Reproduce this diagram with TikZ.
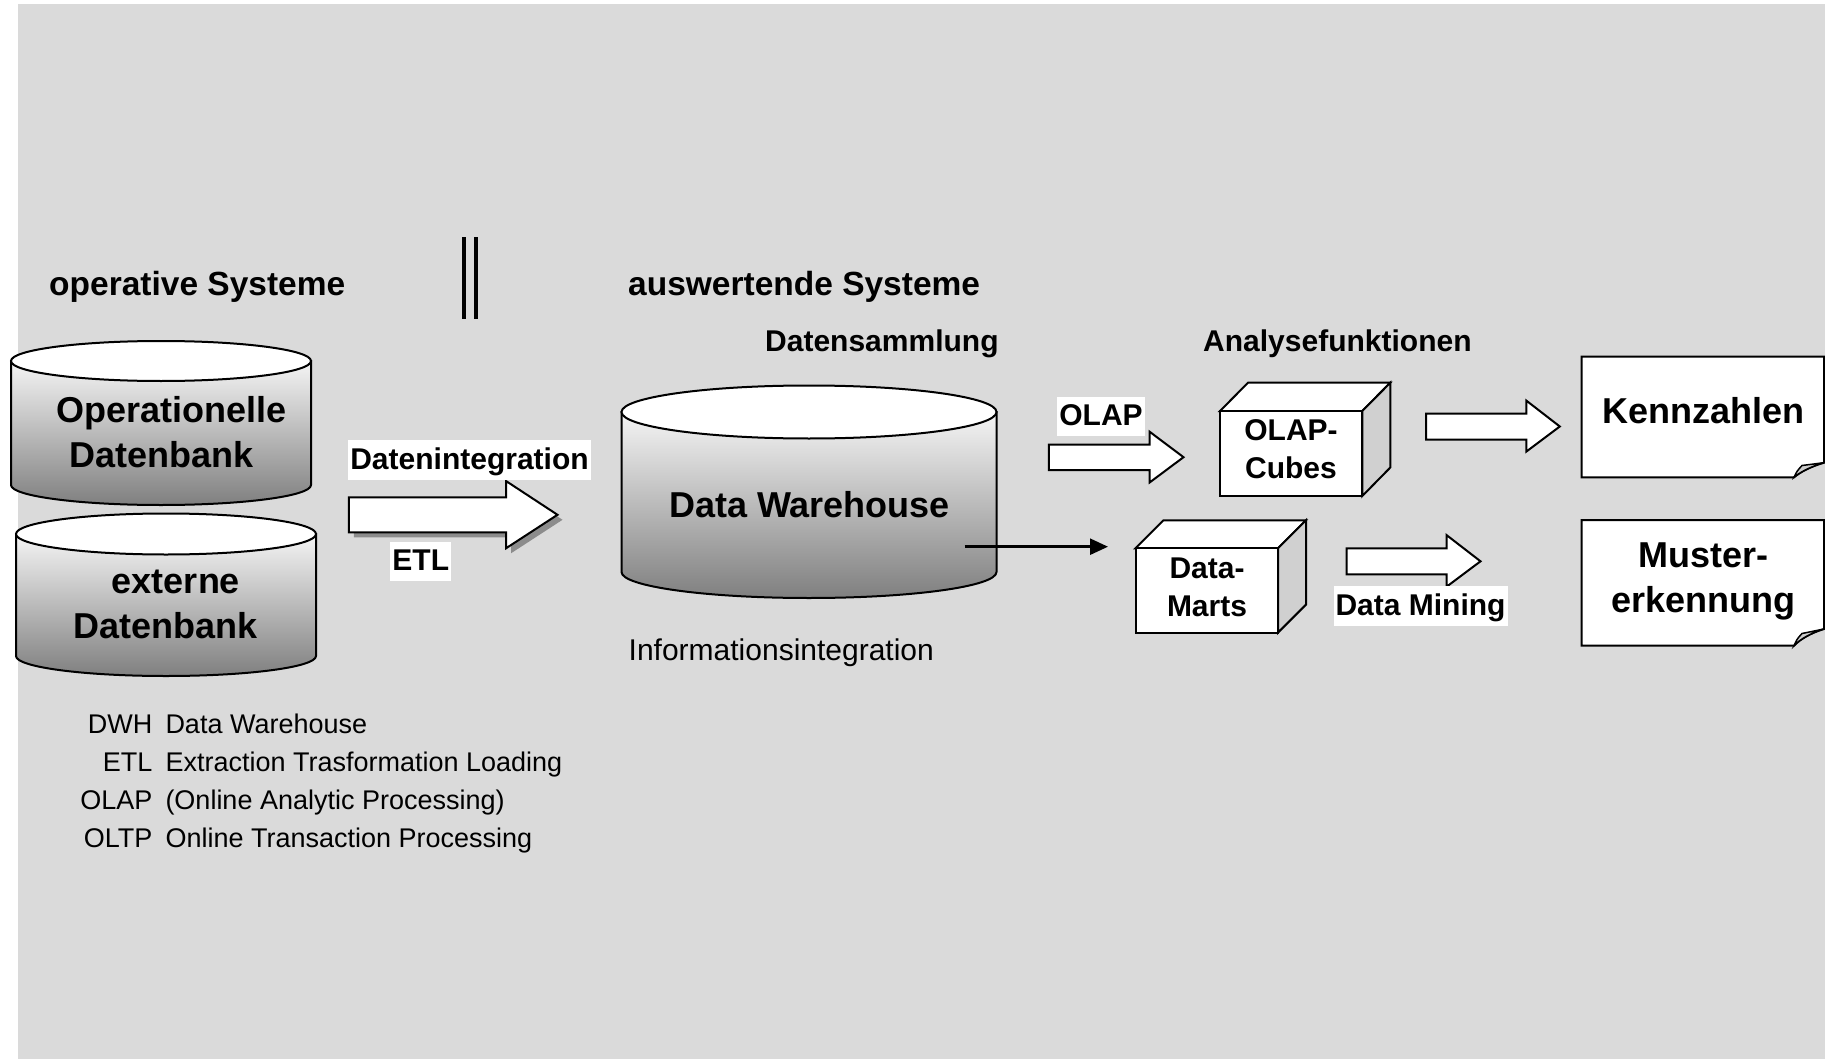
\documentclass[tikz,border=0pt]{standalone}
\usepackage{fontspec}
\setmainfont{Liberation Sans}
\usetikzlibrary{arrows.meta}
\definecolor{bg}{RGB}{218,218,218}
\definecolor{sideface}{RGB}{208,208,208}
\begin{document}
\begin{tikzpicture}[x=1pt,y=-1pt,
  txt/.style={inner sep=0pt, anchor=base},
  hd/.style={txt, anchor=base west, font=\bfseries\fontsize{33.5}{40}\selectfont},
  sub/.style={txt, anchor=base west, font=\bfseries\fontsize{30}{36}\selectfont},
  big/.style={txt, align=center, font=\bfseries\fontsize{36}{45}\selectfont},
  mid/.style={txt, align=center, font=\bfseries\fontsize{30}{38}\selectfont},
  lbl/.style={anchor=base, fill=white, inner xsep=2pt, inner ysep=5pt, text height=24pt, text depth=5.5pt, font=\bfseries\fontsize{30}{36}\selectfont},
  legab/.style={inner sep=0pt, anchor=base east, align=right, font=\fontsize{27}{38}\selectfont},
  legtx/.style={inner sep=0pt, anchor=base west, align=left, font=\fontsize{27}{38}\selectfont},
  plain/.style={inner sep=0pt, anchor=base west, font=\fontsize{30}{36}\selectfont},
  outl/.style={draw=black, line width=2pt, line join=miter},
  blk/.style={outl, fill=white},
  cylbody/.style={outl, top color=white!96!black, bottom color=black!50},
  cyltop/.style={outl, fill=white},
  cubeside/.style={outl, fill=sideface},
  docflap/.style={draw=black, line width=1.5pt, fill=gray!40},
  sep/.style={line width=4pt},
  thin/.style={line width=2.5pt, -{Triangle[length=18pt,width=16pt]}}
]
\useasboundingbox (0,0) rectangle (1825,1059);
\fill[white] (0,0) rectangle (1825,1059);
\fill[bg] (18,4) rectangle (1825,1059);

% headings
\node[hd] (opsys) at (49,295) {operative Systeme};
\node[hd] (auswsys) at (628,295) {auswertende Systeme};
\node[sub] (dsamml) at (765,351) {Datensammlung};
\node[sub] (analyse) at (1203,351) {Analysefunktionen};

% separator
\draw[sep] (464,237.3) -- (464,319.3);
\draw[sep] (476,237.3) -- (476,319.3);

% cylinder 1: Operationelle Datenbank
\path[cylbody] (11,361) -- (11,485) arc[start angle=180, end angle=0, x radius=150, y radius=20] -- (311,361) -- cycle;
\draw[cyltop] (161,361) ellipse[x radius=150, y radius=20];
\node[big] (opdb) at (161.7,467) {\hspace*{20pt}Operationelle\\Datenbank};

% cylinder 2: externe Datenbank
\path[cylbody] (16,534) -- (16,656) arc[start angle=180, end angle=0, x radius=150, y radius=20] -- (316,534) -- cycle;
\draw[cyltop] (166,534) ellipse[x radius=150, y radius=20.5];
\node[big] (extdb) at (166,638.3) {\hspace*{20pt}externe\\Datenbank};

% Datenintegration arrow with shadow
\fill[black!45, shift={(5,5)}] (348.8,497.3) -- (506,497.3) -- (506,481) -- (557.5,514.8) -- (506,548.3) -- (506,532.3) -- (348.8,532.3) -- cycle;
\draw[blk] (348.8,497.3) -- (506,497.3) -- (506,481) -- (557.5,514.8) -- (506,548.3) -- (506,532.3) -- (348.8,532.3) -- cycle;
\node[lbl] (dint) at (469.5,469) {Datenintegration};
\node[lbl] (etl) at (420.8,570.7) {ETL};

% Data Warehouse cylinder
\path[cylbody] (621.5,412) -- (621.5,572) arc[start angle=180, end angle=0, x radius=187.5, y radius=26] -- (996.5,412) -- cycle;
\draw[cyltop] (809,412) ellipse[x radius=187.5, y radius=26.5];
\node[big] (dwh) at (809.5,517) {Data Warehouse};
\node[plain] (infint) at (628.5,660) {Informationsintegration};

% thin arrow DW -> Data Marts
\coordinate (dwout) at (964.6,546.7);
\coordinate (dmin) at (1108,546.7);
\draw[thin] (dwout) -- (dmin);

% OLAP arrow
\draw[blk] (1048.8,444.5) -- (1149.6,444.5) -- (1149.6,431.7) -- (1183.5,457.2) -- (1149.6,482.5) -- (1149.6,470) -- (1048.8,470) -- cycle;
\node[lbl] (olaplbl) at (1101,425.5) {OLAP};

% OLAP cube
\draw[blk] (1220,411) -- (1248,382.7) -- (1390.3,382.7) -- (1362.3,411) -- cycle;
\draw[cubeside] (1362.3,411) -- (1390.3,382.7) -- (1390.3,467.5) -- (1362.3,496) -- cycle;
\draw[blk] (1220,411) rectangle (1362.3,496);
\node[mid] (olapcube) at (1291,478) {OLAP-\\Cubes};

% Data Marts cube
\draw[blk] (1135.5,548.3) -- (1163.5,520.3) -- (1306,520.3) -- (1278,548.3) -- cycle;
\draw[cubeside] (1278,548.3) -- (1306,520.3) -- (1306,604.6) -- (1278,632.6) -- cycle;
\draw[blk] (1135.5,548.3) rectangle (1278,632.6);
\node[mid] (dmarts) at (1207,616.5) {Data-\\Marts};

% Kennzahlen arrow
\draw[blk] (1426,413.5) -- (1526.3,413.5) -- (1526.3,400.6) -- (1559.8,426.5) -- (1526.3,451.6) -- (1526.3,439.5) -- (1426,439.5) -- cycle;

% Data Mining arrow
\draw[blk] (1346.5,548.3) -- (1446.7,548.3) -- (1446.7,535.2) -- (1480.5,561.3) -- (1446.7,586.6) -- (1446.7,574.3) -- (1346.5,574.3) -- cycle;
\node[lbl] (dmin lbl) at (1420.5,615) {Data Mining};

% Kennzahlen document
\draw[blk] (1581.7,356.7) -- (1824,356.7) -- (1824,462.7) .. controls (1812,466) and (1800,472) .. (1794,477.3) -- (1581.7,477.3) -- cycle;
\draw[docflap] (1794,477.3) .. controls (1797,471) .. (1802,465.5) -- (1824,462.7) .. controls (1812,466) and (1800,472) .. (1794,477.3) -- cycle;
\node[big] (kenn) at (1703,423.3) {Kennzahlen};

% Mustererkennung document
\draw[blk] (1581.7,520) -- (1824,520) -- (1824,629) .. controls (1812,632.5) and (1800,639) .. (1794,645.7) -- (1581.7,645.7) -- cycle;
\draw[docflap] (1794,645.7) .. controls (1797,639) .. (1802,633.5) -- (1824,629) .. controls (1812,632.5) and (1800,639) .. (1794,645.7) -- cycle;
\node[big] (muster) at (1703,612.5) {Muster-\\erkennung};

% legend
\node[legab] (legab) at (152.5,847.5) {DWH\\ETL\\OLAP\\OLTP};
\node[legtx] (legtx) at (165.3,847.5) {Data Warehouse\\Extraction Trasformation Loading\\(Online Analytic Processing)\\Online Transaction Processing};
\end{tikzpicture}
\end{document}
